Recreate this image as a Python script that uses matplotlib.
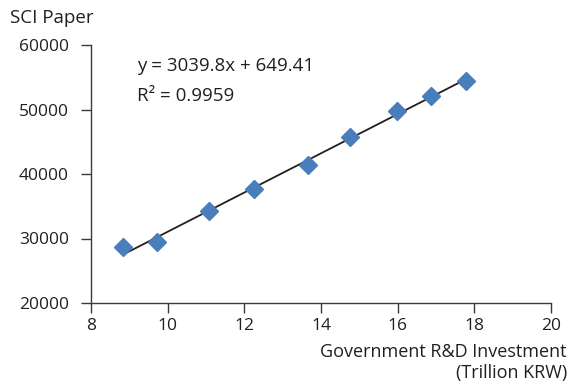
import numpy as np
import matplotlib
matplotlib.use('Agg')
import matplotlib.pyplot as plt

plt.rcParams['font.family'] = ['Open Sans', 'DejaVu Sans']

# government R&D investment (trillion KRW) vs SCI papers
investment = [8.84, 9.73, 11.08, 12.25, 13.65, 14.76, 15.99, 16.87, 17.78]
papers = [28730, 29460, 34220, 37670, 41400, 45780, 49770, 52090, 54470]
slope, intercept = 3039.8, 649.41

fig = plt.figure(figsize=(5.68, 3.84), dpi=100)
ax = fig.add_axes([91 / 568, 81 / 384, 460 / 568, 258 / 384])

xs = np.array([min(investment), max(investment)])
ax.plot(xs, slope * xs + intercept, color='#231f20', lw=1.3, zorder=1)
ax.plot(investment, papers, 'D', color='#4a7ebb', markersize=9, zorder=2)

ax.set_xlim(8, 20)
ax.set_ylim(20000, 60000)
ax.set_xticks(range(8, 21, 2))
ax.set_yticks(range(20000, 60001, 10000))

for s in ['top', 'right']:
    ax.spines[s].set_visible(False)
for s in ['left', 'bottom']:
    ax.spines[s].set_color('#3a3a3a')
    ax.spines[s].set_linewidth(1.0)
ax.tick_params(direction='out', length=7, width=1.0, color='#3a3a3a',
               labelsize=12.5, labelcolor='#231f20')
ax.tick_params(axis='y', pad=9)
ax.tick_params(axis='x', pad=4)

fig.text(10 / 568, 1 - 18 / 384, 'SCI Paper', fontsize=13.5, color='#231f20', va='center')
fig.text(567 / 568, 1 - 352 / 384, 'Government R&D Investment', fontsize=13,
         color='#231f20', ha='right', va='center')
fig.text(567 / 568, 1 - 373 / 384, '(Trillion KRW)', fontsize=13,
         color='#231f20', ha='right', va='center')
fig.text(137 / 568, 1 - 66 / 384, 'y = 3039.8x + 649.41', fontsize=13.5,
         color='#231f20', va='center')
fig.text(137 / 568, 1 - 96 / 384, 'R² = 0.9959', fontsize=13.5,
         color='#231f20', va='center')

fig.savefig('out.png', dpi=100)
